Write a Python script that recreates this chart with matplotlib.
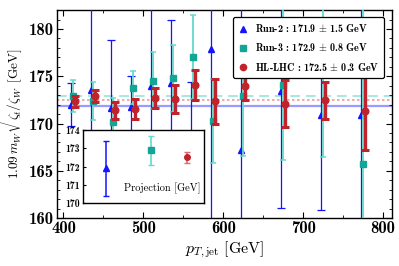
import matplotlib
matplotlib.use("Agg")
import matplotlib.pyplot as plt
from matplotlib.ticker import MultipleLocator

plt.rcParams['mathtext.fontset'] = 'cm'
plt.rcParams['font.family'] = ['cmb10', 'DejaVu Serif']

centers = [412.5, 437.5, 462.5, 487.5, 512.5, 537.5, 562.5, 587.5, 625, 675, 725, 775]
run2 = [172.0, 173.6, 171.65, 171.8, 174.0, 174.3, 168.5, 177.85, 167.2, 173.4, 170.95, 170.95]
run2_err = [2.3, 10.0, 7.15, 3.25, 10.5, 6.7, 5.9, 20.0, 16.0, 12.3, 10.05, 12.0]
run3 = [172.93, 172.4, 170.2, 173.8, 174.55, 174.77, 177.07, 170.3, 172.9, 174.13, 175.2, 165.7]
run3_err = [1.7, 2.0, 2.5, 1.75, 3.05, 3.55, 4.45, 4.45, 6.3, 8.0, 8.75, 17.0]
hl = [172.35, 172.95, 171.4, 171.55, 172.7, 172.6, 174.1, 172.35, 173.95, 172.1, 172.45, 171.3]
hl_err = [0.55, 0.65, 0.9, 1.1, 1.1, 1.5, 1.6, 2.4, 1.45, 2.5, 1.95, 4.05]

comb_names = ['Run-2', 'Run-3', 'HL-LHC']
comb_val = [171.9, 172.9, 172.5]
comb_err = [1.5, 0.8, 0.3]

blue = '#1414ff'
teal_m = '#14a596'
teal_e = '#66d8cc'
red = '#c0232b'

fig = plt.figure(figsize=(3.99, 2.66), dpi=100)
ax = fig.add_axes([0.143, 0.180, 0.839, 0.782])

off = [-2.5, 0.0, 2.5]
xb = [c + off[0] for c in centers]
xt = [c + off[1] for c in centers]
xr = [c + off[2] for c in centers]

ax.axhline(comb_val[0], color='#9a9aff', lw=1.6, zorder=1)
ax.axhline(comb_val[1], color='#a6e8e0', lw=1.4, ls=(0, (5, 3)), zorder=1)
ax.axhline(comb_val[2], color='#f29a9a', lw=1.2, ls=(0, (1.5, 1.5)), zorder=1)

ax.errorbar(xb, run2, yerr=run2_err, fmt='^', color=blue, ms=4.5, lw=0.9,
            capsize=2.8, capthick=0.9, zorder=3)
ax.errorbar(xt, run3, yerr=run3_err, fmt='s', color=teal_m, ecolor=teal_e, ms=4.8,
            lw=1.3, capsize=2.5, capthick=1.1, zorder=4)
ax.errorbar(xr, hl, yerr=hl_err, fmt='o', color=red, ms=4.8, lw=2.4,
            capsize=3, capthick=2.2, zorder=5)

ax.set_xlim(392, 811)
ax.set_ylim(160, 182)
ax.xaxis.set_major_locator(MultipleLocator(100))
ax.xaxis.set_minor_locator(MultipleLocator(50))
ax.yaxis.set_major_locator(MultipleLocator(5))
ax.yaxis.set_minor_locator(MultipleLocator(1))
ax.tick_params(which='both', direction='in', top=True, right=True)
ax.tick_params(which='major', length=4, width=0.8, labelsize=12, pad=2)
ax.tick_params(which='minor', length=2, width=0.6)
for sp in ax.spines.values():
    sp.set_linewidth(1.0)

ax.set_xlabel(r'$p_{T,\mathrm{jet}}\ [\mathrm{GeV}]$', fontsize=11.5, labelpad=3)
ax.set_ylabel(r'$\mathbf{1.09}\,m_W\sqrt{\zeta_t/\zeta_W}\ [\mathrm{GeV}]$', fontsize=9.5)
ax.yaxis.set_label_coords(-0.097, 0.5)

h1 = ax.errorbar([], [], fmt='^', color=blue, ms=4.5)
h2 = ax.errorbar([], [], fmt='s', color=teal_m, ms=4.5)
h3 = ax.errorbar([], [], fmt='o', color=red, ms=4.5)
labels = [f'{n} : {v} $\\pm$ {e} GeV' for n, v, e in zip(comb_names, comb_val, comb_err)]
leg = ax.legend([h1, h2, h3], labels, loc='upper right', bbox_to_anchor=(0.992, 0.99),
                fontsize=7.3, frameon=True, fancybox=True, framealpha=1, edgecolor='black',
                handlelength=1.0, handletextpad=0.6, labelspacing=0.7, borderpad=0.5)
leg.get_frame().set_linewidth(0.9)

ins = fig.add_axes([0.208, 0.237, 0.303, 0.274])
ins_x = [0.19, 0.56, 0.86]
ins.errorbar([ins_x[0]], [comb_val[0]], yerr=[comb_err[0]], fmt='^', color=blue, ms=4,
             lw=1.1, capsize=2.5, capthick=1.0)
ins.errorbar([ins_x[1]], [comb_val[1]], yerr=[comb_err[1]], fmt='s', color=teal_m,
             ecolor=teal_e, ms=4.5, lw=1.2, capsize=2.5, capthick=1.0)
ins.errorbar([ins_x[2]], [comb_val[2]], yerr=[comb_err[2]], fmt='o', color=red,
             ecolor='#e06a6a', ms=4, lw=1.2, capsize=2.5, capthick=1.0)
ins.set_xlim(0, 1)
ins.set_ylim(170, 174)
ins.yaxis.set_major_locator(MultipleLocator(1))
ins.set_xticks([])
ins.tick_params(axis='y', direction='in', labelsize=7, length=2.5, pad=2)
ins.text(0.97, 0.2, 'Projection [GeV]', transform=ins.transAxes, ha='right',
         va='center', fontsize=7.5, family=['cmr10', 'DejaVu Serif'])
for sp in ins.spines.values():
    sp.set_linewidth(1.0)

fig.savefig('out.png', dpi=100)
